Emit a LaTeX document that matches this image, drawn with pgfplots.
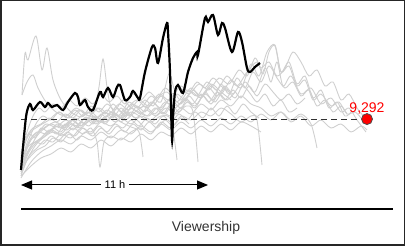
\documentclass[border=0pt]{standalone}
\usepackage{fontspec}
\setmainfont{Liberation Sans}
\usepackage{pgfplots}
\pgfplotsset{compat=1.18}
\usetikzlibrary{arrows.meta}
\definecolor{greyline}{HTML}{CFCFCF}
\begin{document}
\begin{tikzpicture}
\begin{axis}[
  x=1pt, y=1pt,
  xmin=-21, xmax=384, ymin=-34, ymax=212,
  enlargelimits=false,
  axis lines=none, ticks=none,
  scale only axis, clip=false,
  every axis plot/.append style={smooth, tension=0.5},
]
% grey lines (other streams)
\pgfplotsset{grey/.style={greyline, line width=0.9pt}}
\addplot[grey] coordinates {(1,117) (4,159) (7,152) (15,176) (21,142) (26,164) (32,132) (40,112) (50,100) (60,95) (70,100) (80,92) (90,98) (100,90) (110,85) (118,80) (122,55)};
\addplot[grey] coordinates {(1,117) (6,130) (12,137) (17,124) (25,110) (35,100) (45,96) (55,104) (65,98) (74,108) (78,125) (82,153) (86,125) (90,105) (100,94) (110,100) (120,95) (130,90) (140,96) (150,92) (156,52)};
\addplot[grey] coordinates {(0,40) (5,60) (10,72) (18,80) (25,88) (35,85) (45,92) (55,86) (65,95) (75,88) (85,96) (95,90) (105,100) (115,94) (125,102) (135,96) (145,104) (155,98) (165,106) (172,100) (177,50)};
\addplot[grey] coordinates {(0,36) (6,52) (14,66) (22,74) (32,80) (42,76) (52,84) (62,78) (70,84) (76,70) (79,45) (83,70) (90,76) (100,72) (110,80) (120,84) (130,78) (140,90) (150,84) (160,96) (170,92) (180,100) (190,96) (200,104) (210,98) (220,90) (230,96) (236,92) (241,47)};
\addplot[grey] coordinates {(0,44) (8,62) (16,76) (24,84) (34,90) (44,86) (54,94) (64,88) (74,96) (84,90) (94,98) (104,92) (114,100) (124,106) (134,98) (144,110) (154,104) (164,112) (174,106) (184,118) (194,110) (204,124) (214,114) (224,130) (234,120) (244,144) (250,130) (256,150) (262,126) (270,136) (280,118) (290,124) (300,108) (310,114) (320,100) (328,104) (336,92) (345,80)};
\addplot[grey] coordinates {(0,48) (8,70) (16,80) (26,78) (36,86) (46,82) (56,92) (66,100) (76,94) (86,102) (96,96) (106,104) (116,112) (126,104) (136,114) (146,120) (156,110) (166,122) (176,116) (186,130) (196,122) (206,136) (216,126) (226,140) (236,150) (242,138) (248,160) (254,166) (260,140) (268,150) (276,128) (284,136) (292,114) (300,122) (308,104) (316,110) (324,96) (330,100)};
\addplot[grey] coordinates {(0,52) (10,74) (20,82) (30,88) (40,84) (50,92) (60,86) (70,96) (80,90) (90,100) (100,94) (110,104) (120,98) (130,110) (140,104) (150,114) (160,108) (170,120) (180,114) (190,126) (200,118) (210,132) (220,124) (230,148) (238,136) (246,160) (254,167) (260,140) (268,146) (276,126) (284,132) (292,112) (300,118) (310,106) (318,110) (326,98) (334,100) (340,94)};
\addplot[grey] coordinates {(0,56) (8,78) (18,86) (28,92) (38,100) (48,94) (58,102) (68,96) (78,104) (88,98) (98,108) (108,102) (118,112) (128,106) (138,118) (148,112) (158,124) (168,118) (178,128) (188,122) (198,134) (208,128) (218,142) (226,136) (234,154) (240,144) (248,150) (256,136) (264,144) (272,160) (280,150) (288,136) (296,142) (304,126) (312,130) (320,112) (328,118) (336,104) (344,94)};
\addplot[grey] coordinates {(0,34) (10,50) (20,60) (30,66) (40,72) (50,68) (60,76) (70,72) (80,80) (90,74) (100,82) (110,78) (120,86) (130,80) (140,88) (150,82) (160,90) (170,84) (180,92) (190,86) (200,94) (210,88) (220,96) (230,90) (240,98) (250,92) (260,100) (270,92) (280,98) (290,88) (296,64)};
\addplot[grey] coordinates {(0,38) (8,56) (16,64) (24,72) (32,70) (40,78) (50,74) (60,84) (70,80) (80,90) (90,86) (100,94) (110,88) (120,96) (130,92) (140,100) (150,96) (160,104) (170,98) (180,108) (190,102) (200,112) (210,106) (220,116) (230,108) (240,104) (250,96) (260,100) (270,90) (280,96) (290,86) (300,92) (310,84) (320,88) (330,80) (340,86) (346,82)};
\addplot[grey] coordinates {(0,42) (6,58) (12,68) (20,74) (28,82) (36,78) (44,88) (52,82) (60,90) (68,86) (76,94) (84,88) (92,96) (100,90) (108,98) (116,92) (122,86)};
\addplot[grey] coordinates {(0,46) (5,66) (10,78) (16,90) (22,96) (30,92) (38,100) (46,94) (54,102) (62,96) (70,106) (78,100) (86,108) (94,102) (102,112) (110,104) (118,100) (126,96) (134,104) (142,98) (150,108) (158,100) (166,110) (174,104) (182,116) (190,108) (198,118) (206,112) (214,120)};
\addplot[grey] coordinates {(0,50) (6,64) (14,70) (22,68) (30,76) (38,72) (46,80) (54,76) (62,84) (70,78) (78,86) (86,80) (94,88) (102,84) (110,92) (118,86) (126,94) (134,88) (142,96) (150,90) (158,98) (166,92) (174,100) (182,94) (190,104) (198,96) (206,106) (214,98) (222,108) (230,100) (238,94)};
\addplot[grey] coordinates {(0,58) (6,80) (12,96) (18,104) (24,100) (32,108) (40,104) (48,112) (56,106) (64,114) (72,108) (80,118) (88,110) (96,116) (104,108) (112,118) (120,112) (128,120) (136,114) (144,124) (152,118) (160,126) (168,120) (176,130) (184,124) (192,134) (200,126) (208,120)};
\addplot[grey] coordinates {(0,36) (10,46) (20,54) (30,58) (40,64) (50,60) (60,68) (70,64) (80,72) (90,66) (100,74) (110,70) (120,78) (130,72) (140,80) (150,76) (160,84) (170,78) (180,86) (190,80) (200,88) (210,82) (220,90) (230,86) (240,80)};
\addplot[grey] coordinates {(0,40) (8,60) (16,70) (24,76) (32,84) (40,80) (48,90) (56,84) (64,94) (72,88) (80,98) (88,92) (96,104) (104,96) (112,108) (120,100) (128,96) (136,104) (144,98) (152,110) (160,104) (168,116) (176,108) (184,120) (192,112) (200,128) (208,118) (216,134) (224,124) (232,140) (240,130) (248,146) (256,134) (264,124) (272,130) (280,116) (288,122) (296,106) (304,112) (312,100) (320,106) (326,98)};
\addplot[grey] coordinates {(0,44) (8,54) (16,62) (24,66) (32,74) (40,70) (48,78) (56,72) (64,80) (72,76) (80,84) (88,78) (96,86) (104,80) (112,88) (120,82) (128,90) (136,84) (144,92) (152,86) (160,94) (168,88)};
\addplot[grey] coordinates {(0,60) (6,76) (12,84) (20,88) (28,94) (36,90) (44,98) (52,94) (60,102) (68,96) (76,104) (84,98) (92,108) (100,100) (108,110) (116,104) (124,112) (132,106) (140,116) (148,108) (156,118) (164,112) (172,122) (180,114) (188,124) (196,116) (204,126) (212,118) (220,128) (228,120) (236,110) (244,118) (252,106) (260,112) (268,100) (276,104)};
\addplot[grey] coordinates {(0,54) (4,70) (9,78) (14,74) (20,84) (28,80) (36,88) (44,84) (52,92) (60,86) (68,94) (76,90) (84,100) (92,94) (100,104) (108,96) (116,106) (124,100) (132,110) (140,102) (148,112) (156,106) (164,114) (172,108) (180,118) (188,110) (196,120) (204,112) (212,122) (220,114) (228,126) (236,116) (244,128) (252,120) (260,112) (268,118) (276,108) (284,114)};
\addplot[grey] coordinates {(0,48) (10,66) (20,74) (30,82) (40,78) (50,88) (60,84) (70,94) (80,90) (90,100) (100,96) (110,108) (120,104) (130,116) (140,110) (148,138) (154,120) (160,112) (170,124) (180,116) (190,128) (200,120) (210,112)};
% average line and marker
\addplot[black!80, line width=1.1pt, dash pattern=on 6pt off 4pt, sharp plot] coordinates {(0,92.92) (339,92.92)};
% highlighted stream
\addplot[black, line width=2.2pt] coordinates {(0,42) (5,95) (9,108) (12,102) (19,110) (24,105) (27,109) (31,105) (36,107) (42,102) (47,110) (54,119) (57,115) (59,107) (64,112) (67,105) (72,102) (79,120) (82,115) (87,124) (92,115) (96,125) (99,127) (104,112) (109,115) (112,121) (117,114) (119,114) (124,140) (131,165) (134,164) (137,149) (142,174) (146,189) (147,180) (149,140) (151,72) (152,94) (154,120) (157,127) (162,119) (167,140) (172,154) (176,160) (177,157) (184,194) (187,190) (192,197) (197,177) (201,189) (204,184) (211,160) (217,180) (221,170) (226,144) (229,140) (234,145) (239,149)};
\addplot[only marks, mark=*, mark size=5.5pt, mark options={fill=red, draw=black!70, line width=0.8pt}] coordinates {(346,92.92)}
  node[above=5pt, text=red, font=\fontsize{14}{16}\selectfont, inner sep=0pt] {9,292};
% annotations
\draw[black, line width=1pt, {Triangle[length=11pt,width=9pt]}-{Triangle[length=11pt,width=9pt]}] (axis cs:0,27) -- (axis cs:187,27);
\node[fill=white, inner xsep=4pt, inner ysep=1pt, font=\fontsize{11}{13}\selectfont] at (axis cs:94,27) {11 h};
\draw[black, line width=1.3pt] (axis cs:0,3) -- (axis cs:372,3);
\node[text=black!80, font=\fontsize{14}{16}\selectfont] at (axis cs:185,-16) {Viewership};
\draw[black!85, line width=1.5pt] (axis cs:-20.25,-33.25) rectangle (axis cs:383.25,211.25);
\end{axis}
\end{tikzpicture}
\end{document}
